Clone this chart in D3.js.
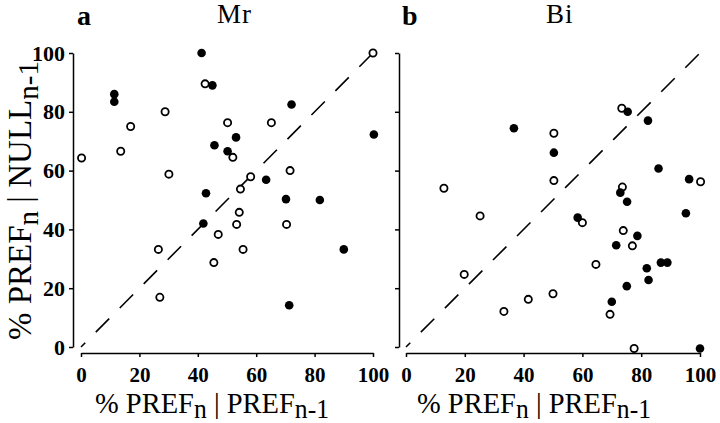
<!DOCTYPE html>
<html>
<head>
<meta charset="utf-8">
<script src="https://cdn.jsdelivr.net/npm/d3@7"></script>
<style>
  html, body { margin: 0; padding: 0; background: #fff; }
  svg { display: block; }
  text { font-family: "Liberation Serif", "Times New Roman", serif; fill: #000; }
</style>
</head>
<body>
<svg id="chart" width="720" height="423"></svg>
<script>
// ---- data ----
const tickValues = [0, 20, 40, 60, 80, 100];
const panelLetters = ["a", "b"];
const panelNames = ["Mr", "Bi"];

// Panel a (Mr): [x = %PREF_n|PREF_n-1, y = %PREF_n|NULL_n-1]
const mrFilled = [
  [41.3, 100], [45, 89], [11.4, 86], [11.4, 83.4], [72.1, 82.5], [53.1, 71.3],
  [45.7, 68.6], [50.2, 66.6], [63.4, 56.9], [42.8, 52.3], [70.2, 50.3], [41.9, 42],
  [71.3, 14.2], [100.3, 72.3], [81.8, 50], [90, 33.2]
];
const mrOpen = [
  [42.5, 89.5], [28.8, 80], [17, 75], [50.2, 76.3], [65.2, 76.3], [52, 64.5],
  [13.6, 66.6], [0.2, 64.3], [30.1, 58.8], [58.1, 57.9], [54.6, 53.7], [71.6, 60],
  [54.2, 45.8], [53.3, 41.7], [70.4, 41.7], [47, 38.3], [26.5, 33.2], [55.5, 33.2],
  [45.5, 28.7], [27, 16.9], [100, 100]
];

// Panel b (Bi)
const biFilled = [
  [36.7, 74.4], [50.3, 66.1], [75.4, 80], [82.3, 77], [85.9, 60.7], [96.3, 57.1],
  [72.9, 52.5], [75.2, 49.4], [58.4, 44], [95.2, 45.5], [78.7, 37.8], [71.5, 34.6],
  [86.7, 28.7], [88.9, 28.7], [81.9, 26.8], [82.5, 22.8], [75.1, 20.7], [70, 15.4],
  [100, -0.5]
];
const biOpen = [
  [50.3, 72.7], [50.3, 56.6], [12.9, 54], [25.2, 44.6], [19.8, 24.7], [33.3, 12.1],
  [41.6, 16.2], [50, 18.1], [73.4, 81.2], [100.2, 56.2], [73.6, 54.4], [60, 42.3],
  [73.9, 39.6], [77, 34.4], [64.6, 28.1], [69.4, 11.1], [77.6, -0.5]
];

const diagonal = [[0, 0], [100, 100]];

// ---- drawing ----
const svg = d3.select("#chart");
svg.append("rect").attr("width", 720).attr("height", 423).attr("fill", "#fff");

const y = d3.scaleLinear().domain([0, 100]).range([347, 53]);
const panels = [
  { x: d3.scaleLinear().domain([0, 100]).range([81, 373]), yAxisX: 73, filled: mrFilled, open: mrOpen,
    letter: panelLetters[0], name: panelNames[0], letterX: 77, nameX: 217, yLabels: true, titleX: 95 },
  { x: d3.scaleLinear().domain([0, 100]).range([406, 700]), yAxisX: 399, filled: biFilled, open: biOpen,
    letter: panelLetters[1], name: panelNames[1], letterX: 402, nameX: 546, yLabels: false, titleX: 417 }
];
const axisY = 353;

function styleAxis(g) {
  g.select(".domain").attr("stroke", "#000").attr("stroke-width", 1.5);
  g.selectAll(".tick line").attr("stroke", "#000").attr("stroke-width", 1.5);
  g.selectAll(".tick text")
    .attr("font-family", '"Liberation Serif", "Times New Roman", serif')
    .attr("font-size", 21).attr("font-weight", "bold").attr("fill", "#000");
}

function subText(sel, parts, big, small, shift) {
  parts.forEach(p => {
    sel.append("tspan")
      .attr("font-size", p.sub ? small : big)
      .attr("dy", p.sub ? shift : (p.after ? -shift : 0))
      .text(p.t);
  });
}

panels.forEach(p => {
  const g = svg.append("g");

  // y axis
  const ya = d3.axisLeft(y).tickValues(tickValues).tickSize(4).tickSizeOuter(0).tickPadding(4);
  if (!p.yLabels) ya.tickFormat(() => "");
  const yg = g.append("g").attr("transform", `translate(${p.yAxisX},0)`).call(ya).call(styleAxis);
  yg.selectAll(".tick text").attr("font-size", 22);

  // x axis
  const xa = d3.axisBottom(p.x).tickValues(tickValues).tickSize(4).tickSizeOuter(0).tickPadding(10);
  g.append("g").attr("transform", `translate(0,${axisY})`).call(xa).call(styleAxis);

  // dashed identity line
  g.append("path")
    .datum(diagonal)
    .attr("d", d3.line().x(d => p.x(d[0])).y(d => y(d[1])))
    .attr("fill", "none").attr("stroke", "#000").attr("stroke-width", 1.6)
    .attr("stroke-dasharray", "19,15").attr("stroke-dashoffset", 13);

  // points
  g.selectAll(".open").data(p.open).join("circle")
    .attr("cx", d => p.x(d[0])).attr("cy", d => y(d[1])).attr("r", 3.6)
    .attr("fill", "#fff").attr("stroke", "#000").attr("stroke-width", 1.8);
  g.selectAll(".filled").data(p.filled).join("circle")
    .attr("cx", d => p.x(d[0])).attr("cy", d => y(d[1])).attr("r", 4.3)
    .attr("fill", "#000");

  // panel letter and name
  g.append("text").attr("x", p.letterX).attr("y", 25)
    .attr("font-size", 28).attr("font-weight", "bold").text(p.letter);
  g.append("text").attr("x", p.nameX).attr("y", 23)
    .attr("font-size", 27).attr("letter-spacing", 1).text(p.name);

  // x title
  const xt = g.append("text")
    .attr("transform", `translate(${p.titleX},413) scale(0.95,1)`);
  subText(xt, [{ t: "% PREF" }, { t: "n", sub: true }, { t: " | PREF", after: true }, { t: "n-1", sub: true }], 30, 27, 5);
});

// y title (rotated)
const yt = svg.append("text").attr("transform", "translate(31,340) rotate(-90)");
subText(yt, [{ t: "% PREF" }, { t: "n", sub: true }, { t: " | NULL", after: true }, { t: "n-1", sub: true }], 33, 29, 7);
</script>
</body>
</html>
